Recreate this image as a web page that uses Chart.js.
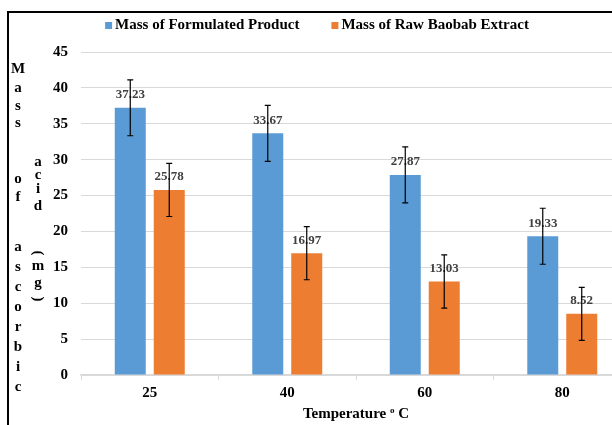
<!DOCTYPE html>
<html>
<head>
<meta charset="utf-8">
<script src="https://cdn.jsdelivr.net/npm/chart.js@4.4.1/dist/chart.umd.min.js"></script>
<style>
  html, body { margin: 0; padding: 0; background: #fff; }
  #wrap { width: 612px; height: 425px; overflow: hidden; position: relative; background: #fff; }
  #chart { position: absolute; left: 0; top: 0; }
</style>
</head>
<body>
<div id="wrap"><canvas id="chart" width="634" height="425"></canvas></div>
<script>
// Data
const temperatures = ['25', '40', '60', '80'];
const formulatedMass = [37.23, 33.67, 27.87, 19.33];
const rawExtractMass = [25.78, 16.97, 13.03, 8.52];
const formulatedError = [3.9, 3.9, 3.9, 3.9];
const rawExtractError = [3.7, 3.7, 3.7, 3.7];
const yTickValues = [0, 5, 10, 15, 20, 25, 30, 35, 40, 45];
const seriesNames = ['Mass of Formulated Product', 'Mass of Raw Baobab Extract'];

const SERIF = "'Liberation Serif', 'Times New Roman', serif";
Chart.defaults.font.family = SERIF;
Chart.defaults.color = '#000';

// Stacked y title, two columns like the original
const yTitleLetters = [
    ['M', 18, 73], ['a', 18, 92], ['s', 18, 110], ['s', 18, 127],
    ['o', 18, 183], ['f', 18, 201],
    ['a', 18, 251], ['s', 18, 271], ['c', 18, 291], ['o', 18, 311],
    ['r', 18, 331], ['b', 18, 351], ['i', 18, 371], ['c', 18, 391],
    ['a', 38, 166], ['c', 38, 179], ['i', 38, 193], ['d', 38, 210],
    ['(', 38, 253, true], ['m', 38, 270], ['g', 38, 287], [')', 38, 299, true]
];

// Legend, titles and frame
const decorations = {
    id: 'decorations',
    beforeDraw(chart) {
        const ctx = chart.ctx;
        ctx.save();
        ctx.fillStyle = '#fff';
        ctx.fillRect(0, 0, chart.width, chart.height);
        ctx.restore();
    },
    afterDraw(chart) {
        const ctx = chart.ctx;
        const area = chart.chartArea;
        ctx.save();

        // legend
        ctx.font = 'bold 15px ' + SERIF;
        const box = 7, boxGap = 3, itemGap = 32;
        const widths = chart.data.datasets.map(ds => ctx.measureText(ds.label).width);
        const total = widths.reduce((a, w) => a + box + boxGap + w, 0) + itemGap * (widths.length - 1);
        let x = chart.width / 2 - total / 2;
        chart.data.datasets.forEach((ds, i) => {
            ctx.fillStyle = ds.backgroundColor;
            ctx.fillRect(x, 22, box, box);
            ctx.fillStyle = '#000';
            ctx.textAlign = 'left';
            ctx.textBaseline = 'alphabetic';
            ctx.fillText(ds.label, x + box + boxGap, 29);
            x += box + boxGap + widths[i] + itemGap;
        });

        // y title
        ctx.font = 'bold 15px ' + SERIF;
        ctx.fillStyle = '#000';
        ctx.textAlign = 'center';
        yTitleLetters.forEach(([ch, lx, ly, rot]) => {
            if (rot) {
                ctx.save();
                ctx.translate(lx, ly);
                ctx.rotate(Math.PI / 2);
                ctx.textBaseline = 'middle';
                ctx.fillText(ch, 0, 0);
                ctx.restore();
            } else {
                ctx.textBaseline = 'alphabetic';
                ctx.fillText(ch, lx, ly);
            }
        });

        // x title: Temperature ºC with raised small o
        const cx = (area.left + area.right) / 2;
        ctx.textBaseline = 'alphabetic';
        ctx.textAlign = 'left';
        ctx.font = 'bold 15px ' + SERIF;
        const part1 = 'Temperature ', part3 = ' C';
        const w1 = ctx.measureText(part1).width, w3 = ctx.measureText(part3).width;
        ctx.font = 'bold 9px ' + SERIF;
        const w2 = ctx.measureText('o').width;
        let tx = cx - (w1 + w2 + w3) / 2;
        ctx.font = 'bold 15px ' + SERIF;
        ctx.fillText(part1, tx, 418);
        ctx.font = 'bold 9px ' + SERIF;
        ctx.fillText('o', tx + w1, 413);
        ctx.font = 'bold 15px ' + SERIF;
        ctx.fillText(part3, tx + w1 + w2, 418);

        // frame (only top and left edges fall inside the crop)
        ctx.fillStyle = '#000';
        ctx.fillRect(7, 11, 2, chart.height);
        ctx.fillRect(7, 11, chart.width, 2);
        ctx.restore();
    }
};

// Value labels and error bars
const barExtras = {
    id: 'barExtras',
    afterDatasetsDraw(chart) {
        const ctx = chart.ctx;
        const yScale = chart.scales.y;
        chart.data.datasets.forEach((ds, i) => {
            const meta = chart.getDatasetMeta(i);
            meta.data.forEach((bar, j) => {
                const v = ds.data[j];
                ctx.save();
                ctx.font = 'bold 13px ' + SERIF;
                ctx.fillStyle = '#404040';
                ctx.textAlign = 'center';
                ctx.textBaseline = 'middle';
                ctx.fillText(v.toFixed(2), bar.x, bar.y - 13);

                const top = yScale.getPixelForValue(v + ds.errors[j]);
                const bot = yScale.getPixelForValue(v - ds.errors[j]);
                ctx.strokeStyle = '#000';
                ctx.lineWidth = 1.2;
                ctx.beginPath();
                ctx.moveTo(bar.x, top); ctx.lineTo(bar.x, bot);
                ctx.moveTo(bar.x - 3, top); ctx.lineTo(bar.x + 3, top);
                ctx.moveTo(bar.x - 3, bot); ctx.lineTo(bar.x + 3, bot);
                ctx.stroke();
                ctx.restore();
            });
        });
    }
};

const ctx = document.getElementById('chart').getContext('2d');
const chart = new Chart(ctx, {
    type: 'bar',
    data: {
        labels: temperatures,
        datasets: [{
            label: seriesNames[0],
            data: formulatedMass,
            errors: formulatedError,
            backgroundColor: '#5B9BD5',
            categoryPercentage: 0.567,
            barPercentage: 0.795
        }, {
            label: seriesNames[1],
            data: rawExtractMass,
            errors: rawExtractError,
            backgroundColor: '#ED7D31',
            categoryPercentage: 0.567,
            barPercentage: 0.795
        }]
    },
    options: {
        responsive: false,
        animation: false,
        layout: { padding: { top: 52, right: 3, left: 0, bottom: 0 } },
        plugins: {
            legend: { display: false },
            tooltip: { enabled: false }
        },
        scales: {
            x: {
                grid: { display: true, drawOnChartArea: false, drawTicks: true, tickLength: 5, color: '#d9d9d9', offset: true },
                border: { display: true, color: '#d9d9d9', width: 1.5 },
                ticks: { color: '#000', font: { size: 15, weight: 'bold' }, padding: 4 },
                afterFit: s => { s.height = 50; }
            },
            y: {
                min: 0,
                max: 45,
                afterBuildTicks: s => { s.ticks = yTickValues.map(v => ({ value: v })); },
                ticks: { color: '#000', font: { size: 15, weight: 'bold' }, padding: 13 },
                grid: { color: '#d9d9d9', drawTicks: false },
                border: { display: false },
                afterFit: s => { s.width = 81; }
            }
        }
    },
    plugins: [decorations, barExtras]
});
</script>
</body>
</html>
